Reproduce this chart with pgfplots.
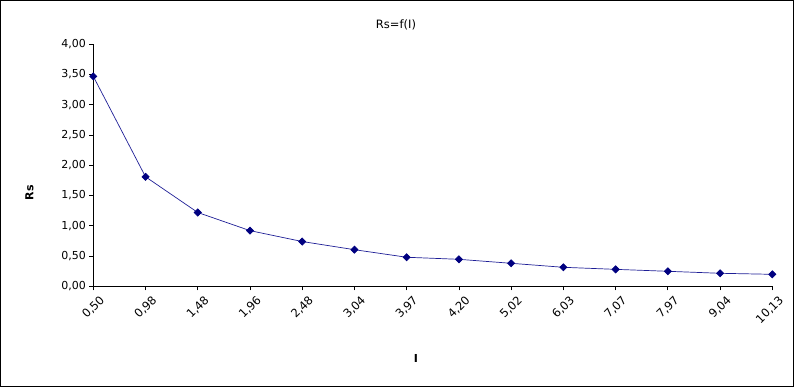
\documentclass[border=0pt]{standalone}
\usepackage{pgfplots}
\pgfplotsset{compat=1.18}
\usepackage{fontspec}
\setmainfont{DejaVu Sans}
\definecolor{navyline}{RGB}{0,0,128}
\definecolor{linecol}{RGB}{30,30,150}
\begin{document}
\begin{tikzpicture}
\path[use as bounding box] (0pt,0pt) rectangle (794pt,387pt);
\draw[black, line width=1pt] (0.5pt,0.5pt) rectangle (793.5pt,386.5pt);
\node[font=\fontsize{11.5}{13}\selectfont] at (396pt,362pt) {Rs=f(I)};
\begin{axis}[
  at={(93.3pt,100.7pt)}, anchor=south west,
  scale only axis, width=679pt, height=242pt,
  xmin=0, xmax=13, ymin=0, ymax=4,
  axis lines*=left,
  axis line style={black, line width=0.8pt},
  xtick={0,...,13},
  xticklabels={{0,50},{0,98},{1,48},{1,96},{2,48},{3,04},{3,97},{4,20},{5,02},{6,03},{7,07},{7,97},{9,04},{10,13}},
  ytick={0,0.5,...,4},
  tick align=outside,
  major tick length=4pt,
  tick style={black, line width=0.8pt},
  /pgf/number format/assume math mode=true,
  yticklabel style={font=\fontsize{11}{13}\selectfont, /pgf/number format/.cd, fixed, fixed zerofill, precision=2, use comma},
  x tick label style={font=\fontsize{11.5}{13}\selectfont, rotate=45, anchor=north east, inner sep=0pt, xshift=1pt, yshift=-7pt},
  xlabel={\textbf{I}},
  ylabel={\textbf{Rs}},
  label style={font=\fontsize{11}{13}\selectfont},
  xlabel style={at={(axis description cs:0.475,0)}, anchor=center, yshift=-72pt},
  ylabel style={at={(axis description cs:-0.094,0.386)}, anchor=center},
  clip=false,
]
\addplot[color=linecol, line width=0.7pt, mark=square*, mark size=2.5pt, mark options={rotate=45, fill=navyline, draw=navyline}]
coordinates {
(0,3.47) (1,1.81) (2,1.22) (3,0.92) (4,0.74) (5,0.605) (6,0.48) (7,0.446) (8,0.38) (9,0.314) (10,0.28) (11,0.248) (12,0.215) (13,0.198)
};
\end{axis}
\end{tikzpicture}
\end{document}
